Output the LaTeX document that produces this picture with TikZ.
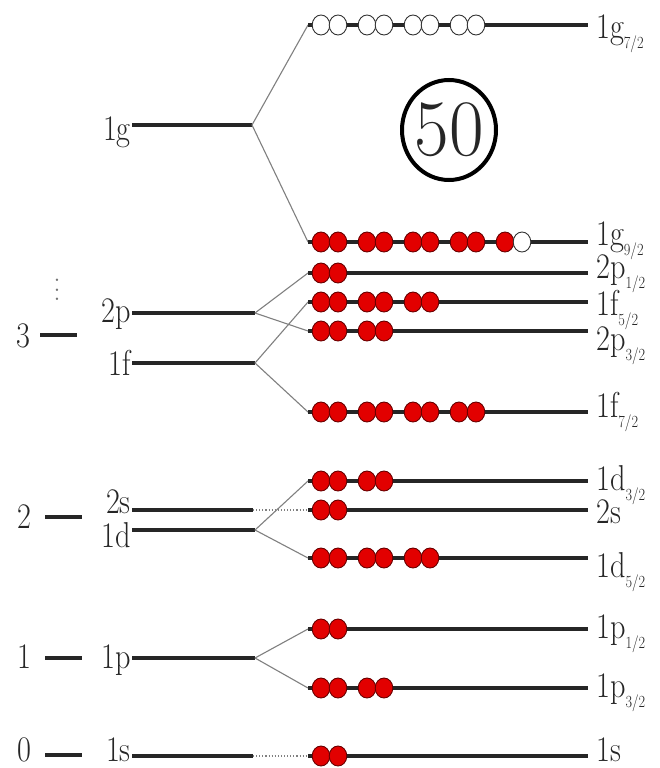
\documentclass[tikz,border=0pt]{standalone}
\usepackage{tikz}

\definecolor{nucred}{RGB}{226,0,0}
\definecolor{nucdark}{RGB}{105,0,0}
\tikzset{
  lvl/.style={line width=3.2pt,black!85},
  split/.style={line width=1.1pt,black!50},
  nuc/.style={circle,line width=0.9pt,minimum size=20pt,inner sep=0pt,xscale=0.88},
  txt/.style={inner sep=0pt,font=\fontsize{36}{40}\selectfont,xscale=0.84,text=black!85},
}
\newcommand{\jsub}[1]{\raisebox{-0.3em}{\fontsize{17}{17}\selectfont #1}}
\newcommand{\orbit}[4]{%
  \foreach \k in {1,...,#3}{%
    \pgfmathsetmacro\cx{321+int((\k-1)/2)*46+mod(\k-1,2)*17}%
    \ifnum\k>#4 \def\fc{white}\def\dc{black!80}\else\def\fc{nucred}\def\dc{nucdark}\fi
    \node[nuc,fill=\fc,draw=\dc] (#1\k) at (\cx,#2) {};
  }%
}

\begin{document}
\begin{tikzpicture}[x=1pt,y=-1pt]
\path[use as bounding box] (0,0) rectangle (659,768);
\fill[white] (0,0) rectangle (659,768);
\node[txt,anchor=base] (n3) at (23,347) {3};
\node[txt,anchor=base] (n2) at (24,528) {2};
\node[txt,anchor=base] (n1) at (24,668) {1};
\node[txt,anchor=base] (n0) at (24,761) {0};
\draw[lvl,line width=3.6pt] (40,335) -- (77,335);
\draw[lvl,line width=3.6pt] (45,517) -- (82,517);
\draw[lvl,line width=3.6pt] (45,658) -- (82,658);
\draw[lvl,line width=3.6pt] (45,755) -- (82,755);
\node[text=black!55,inner sep=0pt,scale=2.3] (vd) at (57,283) {\vdots};
\node[txt,anchor=base east] (l1g) at (131,140) {1g};
\node[txt,anchor=base east] (l2p) at (131,322) {2p};
\node[txt,anchor=base east] (l1f) at (131,375) {1f};
\node[txt,anchor=base east] (l2s) at (131,513) {2s};
\node[txt,anchor=base east] (l1d) at (131,547) {1d};
\node[txt,anchor=base east] (l1p) at (131,668) {1p};
\node[txt,anchor=base east] (l1s) at (131,761) {1s};
\coordinate (p1g) at (132,125);
\coordinate (p2p) at (132,313);
\coordinate (p1f) at (132,363);
\coordinate (p2s) at (132,510);
\coordinate (p1d) at (132,530);
\coordinate (p1p) at (132,658);
\coordinate (p1s) at (132,756);
\coordinate (q1g) at (252,125);
\coordinate (q2p) at (255,313);
\coordinate (q1f) at (255,363);
\coordinate (q2s) at (253,510);
\coordinate (q1d) at (255,530);
\coordinate (q1p) at (255,658);
\coordinate (q1s) at (253,756);
\draw[lvl] (p1g) -- (q1g);
\draw[lvl] (p2p) -- (q2p);
\draw[lvl] (p1f) -- (q1f);
\draw[lvl] (p2s) -- (q2s);
\draw[lvl] (p1d) -- (q1d);
\draw[lvl] (p1p) -- (q1p);
\draw[lvl] (p1s) -- (q1s);
\coordinate (ag7) at (308,25);
\coordinate (ag9) at (308,242);
\coordinate (ap1) at (308,273);
\coordinate (af5) at (308,302);
\coordinate (ap3) at (308,331);
\coordinate (af7) at (308,412);
\coordinate (ad3) at (308,481);
\coordinate (as2) at (308,510);
\coordinate (ad5) at (308,558);
\coordinate (app1) at (308,629);
\coordinate (app3) at (308,688);
\coordinate (as1) at (308,756);
\coordinate (bg7) at (588,25);
\coordinate (bg9) at (588,242);
\coordinate (bp1) at (588,273);
\coordinate (bf5) at (588,302);
\coordinate (bp3) at (588,331);
\coordinate (bf7) at (588,412);
\coordinate (bd3) at (588,481);
\coordinate (bs2) at (588,510);
\coordinate (bd5) at (588,558);
\coordinate (bpp1) at (588,629);
\coordinate (bpp3) at (588,688);
\coordinate (bs1) at (588,756);
\draw[split] (q1g) -- (ag7);
\draw[split] (q1g) -- (ag9);
\draw[split] (q2p) -- (ap1);
\draw[split] (q2p) -- (ap3);
\draw[split] (q1f) -- (af5);
\draw[split] (q1f) -- (af7);
\draw[split,dotted] (q2s) -- (as2);
\draw[split] (q1d) -- (ad3);
\draw[split] (q1d) -- (ad5);
\draw[split] (q1p) -- (app1);
\draw[split] (q1p) -- (app3);
\draw[split,dotted] (q1s) -- (as1);
\draw[lvl] (ag7) -- (bg7);
\draw[lvl] (ag9) -- (bg9);
\draw[lvl] (ap1) -- (bp1);
\draw[lvl] (af5) -- (bf5);
\draw[lvl] (ap3) -- (bp3);
\draw[lvl] (af7) -- (bf7);
\draw[lvl] (ad3) -- (bd3);
\draw[lvl] (as2) -- (bs2);
\draw[lvl] (ad5) -- (bd5);
\draw[lvl] (app1) -- (bpp1);
\draw[lvl] (app3) -- (bpp3);
\draw[lvl] (as1) -- (bs1);
\orbit{g7}{25}{8}{0}
\orbit{g9}{242}{10}{9}
\orbit{p1}{273}{2}{2}
\orbit{f5}{302}{6}{6}
\orbit{p3}{331}{4}{4}
\orbit{f7}{412}{8}{8}
\orbit{d3}{481}{4}{4}
\orbit{s2}{510}{2}{2}
\orbit{d5}{558}{6}{6}
\orbit{pp1}{629}{2}{2}
\orbit{pp3}{688}{4}{4}
\orbit{s1}{756}{2}{2}
\node[txt,anchor=base west] (rg7) at (596,38) {1g\jsub{7/2}};
\node[txt,anchor=base west] (rg9) at (596,245) {1g\jsub{9/2}};
\node[txt,anchor=base west] (rp1) at (596,278) {2p\jsub{1/2}};
\node[txt,anchor=base west] (rf5) at (596,315) {1f\jsub{5/2}};
\node[txt,anchor=base west] (rp3) at (596,350) {2p\jsub{3/2}};
\node[txt,anchor=base west] (rf7) at (596,417) {1f\jsub{7/2}};
\node[txt,anchor=base west] (rd3) at (596,490) {1d\jsub{3/2}};
\node[txt,anchor=base west] (rs2) at (596,523) {2s};
\node[txt,anchor=base west] (rd5) at (596,577) {1d\jsub{5/2}};
\node[txt,anchor=base west] (rpp1) at (596,638) {1p\jsub{1/2}};
\node[txt,anchor=base west] (rpp3) at (596,697) {1p\jsub{3/2}};
\node[txt,anchor=base west] (rs1) at (596,761) {1s};
\node[circle,draw,line width=4pt,minimum size=100pt,inner sep=0pt,xscale=0.94,
  font=\fontsize{80}{80}\selectfont,text=black!85] (magic) at (449,130) {50};
\end{tikzpicture}
\end{document}
